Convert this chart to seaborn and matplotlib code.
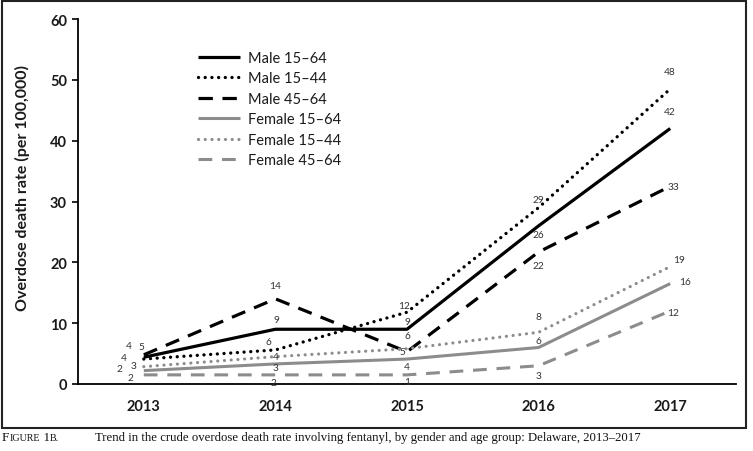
import matplotlib
matplotlib.use("Agg")
import matplotlib.pyplot as plt
import numpy as np
import pandas as pd
import seaborn as sns
from matplotlib.patches import Rectangle

# ---------------- data ----------------
years = ["2013", "2014", "2015", "2016", "2017"]
series_names = ["Male 15–64", "Male 15–44", "Male 45–64",
                "Female 15–64", "Female 15–44", "Female 45–64"]
male_15_64 = [4.4, 9.0, 9.0, 26.0, 42.0]
male_15_44 = [4.1, 5.6, 11.8, 29.0, 48.5]
male_45_64 = [4.8, 14.0, 5.3, 21.7, 32.5]
female_15_64 = [2.2, 3.3, 4.1, 6.0, 16.5]
female_15_44 = [2.85, 4.5, 5.8, 8.5, 19.3]
female_45_64 = [1.5, 1.5, 1.5, 3.0, 12.0]

lab_male_15_64 = ["4", "9", "9", "26", "42"]
lab_male_15_44 = ["4", "6", "12", "29", "48"]
lab_male_45_64 = ["5", "14", "5", "22", "33"]
lab_female_15_64 = ["2", "3", "4", "6", "16"]
lab_female_15_44 = ["3", "4", "6", "8", "19"]
lab_female_45_64 = ["2", "2", "1", "3", "12"]

y_ticks = [0, 10, 20, 30, 40, 50, 60]
y_label = "Overdose death rate (per 100,000)"
caption_text = "Trend in the crude overdose death rate involving fentanyl, by gender and age group: Delaware, 2013–2017"

values = [male_15_64, male_15_44, male_45_64, female_15_64, female_15_44, female_45_64]
value_labels = [lab_male_15_64, lab_male_15_44, lab_male_45_64,
                lab_female_15_64, lab_female_15_44, lab_female_45_64]

rows = []
for name, vals in zip(series_names, values):
    for i, (yr, v) in enumerate(zip(years, vals)):
        rows.append({"series": name, "year": yr, "pos": i, "rate": v})
df = pd.DataFrame(rows)

# ---------------- styles ----------------
BLACK = "#000000"
GRAY = "#8c8c8c"
styles = {
    "Male 15–64": dict(color=BLACK, lw=2.3, ls="-", cap="butt"),
    "Male 15–44": dict(color=BLACK, lw=2.4, ls=(0, (0.01, 2.0)), cap="round"),
    "Male 45–64": dict(color=BLACK, lw=2.3, ls=(0, (4.5, 3.0)), cap="butt"),
    "Female 15–64": dict(color=GRAY, lw=2.2, ls="-", cap="butt"),
    "Female 15–44": dict(color=GRAY, lw=2.3, ls=(0, (0.01, 2.1)), cap="round"),
    "Female 45–64": dict(color=GRAY, lw=2.2, ls=(0, (4.5, 3.2)), cap="butt"),
}
# label offsets in pixels (dx, dy) per series per year
offsets = [
    [(-15, 12), (1, 10), (0, 8), (0, -9), (0, 17)],
    [(-20, 2), (-7, 8), (-3, 7), (0, 8), (0, 17)],
    [(-2, 8), (0, 13), (-5, 0), (0, -14), (3, 0)],
    [(-24, 2), (0, -4), (0, -7), (0, 7), (15, 2)],
    [(-10, 1), (0, 0), (0, 13), (0, 16), (9, 7)],
    [(-13, -3), (-2, -8), (0, -7), (0, -10), (3, -2)],
]

sns.set_theme(style="white")
plt.rcParams["font.family"] = ["Lato", "DejaVu Sans"]

W, H = 753, 452
fig = plt.figure(figsize=(W / 100, H / 100), dpi=100)
ax = fig.add_axes([78 / W, 1 - 385 / H, (736 - 78) / W, (385 - 20) / H])

for name in series_names:
    st = styles[name]
    sub = df[df["series"] == name]
    sns.lineplot(data=sub, x="pos", y="rate", ax=ax, color=st["color"],
                 linewidth=st["lw"], linestyle=st["ls"], label=name,
                 dash_capstyle=st["cap"], solid_capstyle="butt", sort=False)

for s_idx, (vals, labs) in enumerate(zip(values, value_labels)):
    for i, (v, t) in enumerate(zip(vals, labs)):
        dx, dy = offsets[s_idx][i]
        ax.annotate(t, (i, v), xytext=(dx, dy), textcoords="offset pixels",
                    ha="center", va="center", fontsize=7.3, color="#333333")

ax.set_xlim(-0.5, len(years) - 0.5)
ax.set_ylim(0, 60)
ax.set_xticks(range(len(years)))
ax.set_xticklabels(years, fontsize=10.5, fontweight="bold", color="#1a1a1a")
ax.set_xticks(np.arange(-0.5, len(years)), minor=True)
ax.tick_params(axis="x", which="major", length=0, pad=11)
ax.tick_params(axis="x", which="minor", length=4, width=1.2, direction="out", color="black")
ax.set_yticks(y_ticks)
ax.set_yticklabels([str(t) for t in y_ticks], fontsize=10.5, fontweight="bold", color="#1a1a1a")
ax.tick_params(axis="y", length=4, width=1.2, direction="out", color="black", pad=4, left=True)
ax.set_xlabel("")
ax.set_ylabel(y_label, fontsize=11.5, fontweight="bold", color="#1a1a1a")
ax.yaxis.label.set_va("center")
ax.yaxis.set_label_coords(-0.085, 0.541)

for side in ["top", "right"]:
    ax.spines[side].set_visible(False)
for side in ["left", "bottom"]:
    ax.spines[side].set_color("black")
    ax.spines[side].set_linewidth(1.3)
ax.grid(False)

leg = ax.legend(loc="upper left", bbox_to_anchor=(198 / W, 1 - 52 / H),
                bbox_transform=fig.transFigure, frameon=False, fontsize=10.5,
                handlelength=2.9, handletextpad=0.5, labelspacing=0.44,
                borderpad=0, borderaxespad=0)
for t in leg.get_texts():
    t.set_color("#1a1a1a")

# outer border
fig.patches.append(Rectangle((1.5 / W, 1 - 429 / H), (746 - 1.5) / W, (429 - 1.5) / H,
                             transform=fig.transFigure, fill=False,
                             edgecolor="#222222", linewidth=1.5))

# caption with small caps
serif = ["Liberation Serif", "DejaVu Serif"]
fig.canvas.draw()
renderer = fig.canvas.get_renderer()
x = 2 / W
ycap = 1 - 441 / H
pieces = [("F", 9.5), ("IGURE", 7.2), (" 1", 9.5), ("B.", 7.2)]
for txt, fs in pieces:
    t = fig.text(x, ycap, txt, fontsize=fs, family=serif, ha="left", va="baseline", color="#111111")
    bb = t.get_window_extent(renderer)
    x = bb.x1 / W
fig.text(95 / W, ycap, caption_text, fontsize=9.2, family=serif, ha="left",
         va="baseline", color="#111111")

fig.savefig("out.png", dpi=100)
